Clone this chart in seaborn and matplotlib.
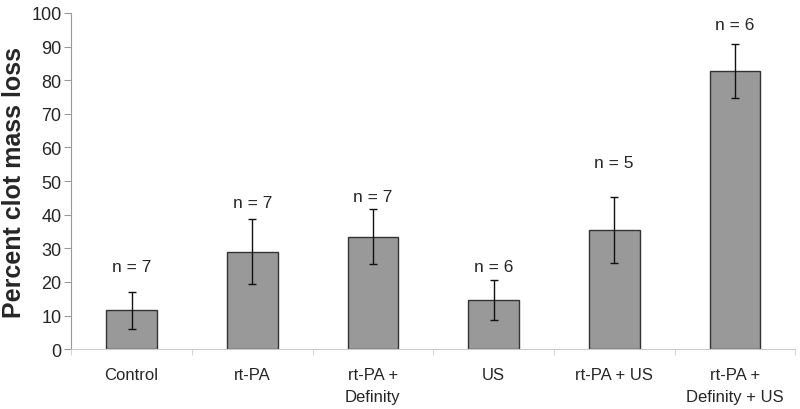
import numpy as np
import pandas as pd
import matplotlib
matplotlib.use("Agg")
import matplotlib.pyplot as plt
import seaborn as sns

# Data
groups = ["Control", "rt-PA", "rt-PA +\nDefinity", "US", "rt-PA + US", "rt-PA +\nDefinity + US"]
mass_loss = [11.5, 29.0, 33.5, 14.6, 35.5, 82.8]
sd = [5.5, 9.7, 8.2, 6.0, 9.9, 8.0]
n_labels = ["n = 7", "n = 7", "n = 7", "n = 6", "n = 5", "n = 6"]
n_label_y = [24.7, 43.7, 45.5, 24.7, 55.6, 96.7]

sns.set_style("white")
plt.rcParams['font.family'] = ['Liberation Sans', 'DejaVu Sans']

df = pd.DataFrame({"group": groups, "loss": mass_loss})

fig = plt.figure(figsize=(8, 4.1), dpi=100)
ax = fig.add_axes([0.089, 0.146, 0.905, 0.82])

sns.barplot(data=df, x="group", y="loss", color="#999999", saturation=1,
            edgecolor="#333333", linewidth=1, width=0.42, ax=ax)
ax.errorbar(np.arange(len(groups)), mass_loss, yerr=sd, fmt="none",
            ecolor="#111111", elinewidth=1, capsize=3, capthick=1)

for i, (lab, yy) in enumerate(zip(n_labels, n_label_y)):
    ax.text(i, yy, lab, ha="center", va="center", fontsize=12.5)

ax.set_ylim(0, 100)
ax.set_yticks(range(0, 101, 10))
ax.set_xlim(-0.5, len(groups) - 0.5)
ax.set_xlabel("")
ax.set_ylabel("Percent clot mass loss", fontsize=18, fontweight="bold", labelpad=4)
ax.tick_params(axis="y", labelsize=13, length=5, color="#999999", left=True, pad=2)
ax.tick_params(axis="x", which="major", labelsize=12, length=0, pad=13)
for t in ax.get_xticklabels():
    t.set_linespacing(1.6)
ax.set_xticks(np.arange(-0.5, len(groups), 1.0), minor=True)
ax.tick_params(axis="x", which="minor", length=4, color="#cccccc", bottom=True)

for side in ["top", "right"]:
    ax.spines[side].set_visible(False)
ax.spines["left"].set_color("#999999")
ax.spines["bottom"].set_color("#cccccc")

fig.savefig("out.png", dpi=100)
